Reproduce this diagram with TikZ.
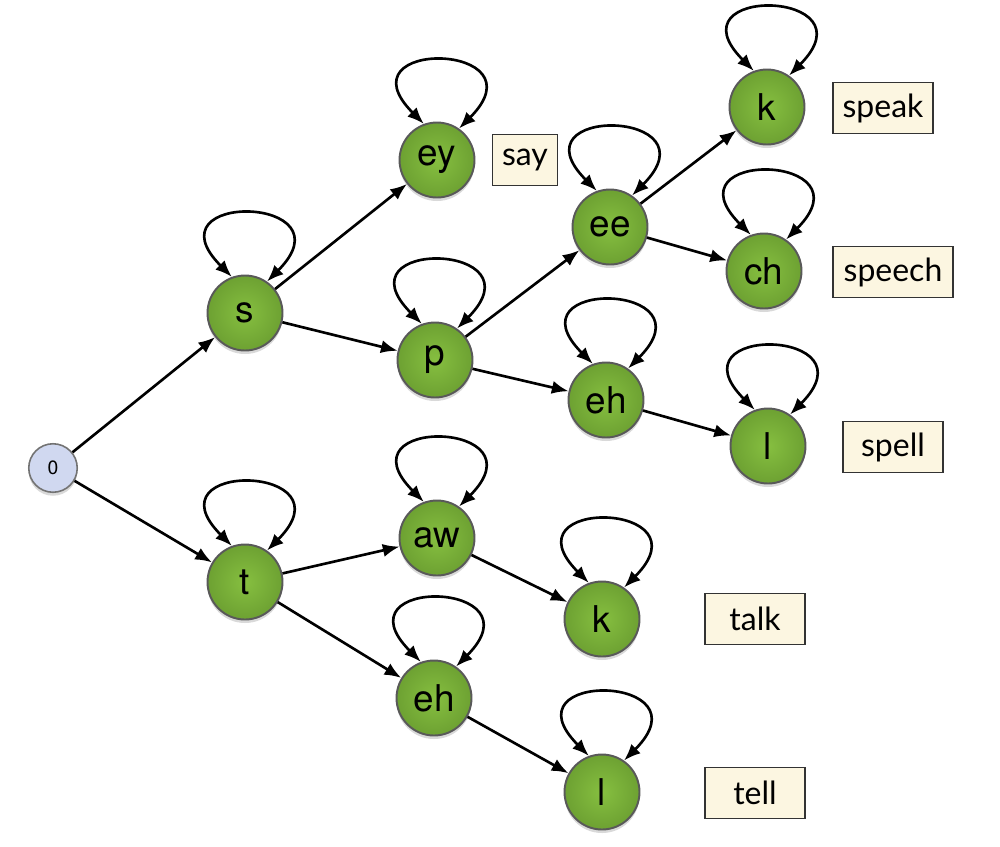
\documentclass[tikz,border=0pt]{standalone}
\usepackage{fontspec}
\newfontfamily\statefont{TeX Gyre Heros}
\newfontfamily\wordfont{Lato}
\usetikzlibrary{arrows.meta, shadows}

\definecolor{stategreen}{HTML}{86BF40}
\definecolor{stateedge}{HTML}{6DA132}
\definecolor{startblue}{HTML}{D0D8F0}
\definecolor{wordfill}{HTML}{FCF6E1}

\tikzset{
    state/.style={circle, draw=black!65, line width=1.1pt, minimum size=1.5cm, inner sep=0pt,
        shading=radial, inner color=stategreen, outer color=stateedge,
        drop shadow={shadow xshift=0pt, shadow yshift=-2pt, opacity=0.3},
        font=\statefont\fontsize{21}{24}\selectfont},
    start/.style={circle, draw=black!55, line width=0.9pt, fill=startblue, minimum size=0.97cm, inner sep=0pt,
        drop shadow={shadow xshift=0pt, shadow yshift=-2pt, opacity=0.3},
        font=\statefont\fontsize{11}{13}\selectfont},
    word/.style={rectangle, draw=black!80, line width=0.8pt, fill=wordfill, minimum height=1.03cm,
        minimum width=2cm, inner xsep=0.1cm, font=\wordfont\fontsize{18.2}{21}\selectfont},
    trans/.style={-{Latex[length=9.5pt, width=7.5pt]}, line width=1.5pt},
    selfloop/.style={{Latex[length=9.5pt, width=7.5pt]}-{Latex[length=9.5pt, width=7.5pt]}, line width=1.5pt,
        out=135, in=45, distance=2.45cm}
}

\begin{document}
\begin{tikzpicture}[x=0.02cm, y=0.02cm]
    \useasboundingbox (0,0) rectangle (1000,-846);

    % states
    \node[start] (zero) at (53,-468) {0};
    \node[state] (s) at (245,-313) {s};
    \node[state] (ey) at (437,-160) {ey};
    \node[state] (p) at (435,-360) {p};
    \node[state] (ee) at (610,-227) {ee};
    \node[state] (k1) at (767,-107) {k};
    \node[state] (ch) at (764,-271) {ch};
    \node[state] (eh1) at (606,-400) {eh};
    \node[state] (l1) at (768,-446) {l};
    \node[state] (t) at (245,-582) {t};
    \node[state] (aw) at (437,-538) {aw};
    \node[state] (k2) at (602,-619) {k};
    \node[state] (eh2) at (434,-698) {eh};
    \node[state] (l2) at (602,-792) {l};

    % words
    \node[word, minimum width=1.3cm] (say) at (525,-160) {say};
    \node[word] (speak) at (883,-108) {speak};
    \node[word, minimum width=2.4cm] (speech) at (893,-272) {speech};
    \node[word] (spell) at (893,-447) {spell};
    \node[word] (talk) at (755,-619) {talk};
    \node[word] (tell) at (755,-793) {tell};

    % transitions
    \draw[trans] (zero) -- (s);
    \draw[trans] (zero) -- (t);
    \draw[trans] (s) -- (ey);
    \draw[trans] (s) -- (p);
    \draw[trans] (p) -- (ee);
    \draw[trans] (p) -- (eh1);
    \draw[trans] (ee) -- (k1);
    \draw[trans] (ee) -- (ch);
    \draw[trans] (eh1) -- (l1);
    \draw[trans] (t) -- (aw);
    \draw[trans] (t) -- (eh2);
    \draw[trans] (aw) -- (k2);
    \draw[trans] (eh2) -- (l2);

    % self loops
    \draw[selfloop] (s.110) to (s.55);
    \draw[selfloop] (ey.110) to (ey.55);
    \draw[selfloop] (p.110) to (p.55);
    \draw[selfloop] (ee.110) to (ee.55);
    \draw[selfloop] (k1.110) to (k1.55);
    \draw[selfloop] (ch.110) to (ch.55);
    \draw[selfloop] (eh1.110) to (eh1.55);
    \draw[selfloop] (l1.110) to (l1.55);
    \draw[selfloop] (t.110) to (t.55);
    \draw[selfloop] (aw.110) to (aw.55);
    \draw[selfloop] (k2.110) to (k2.55);
    \draw[selfloop] (eh2.110) to (eh2.55);
    \draw[selfloop] (l2.110) to (l2.55);
\end{tikzpicture}
\end{document}
